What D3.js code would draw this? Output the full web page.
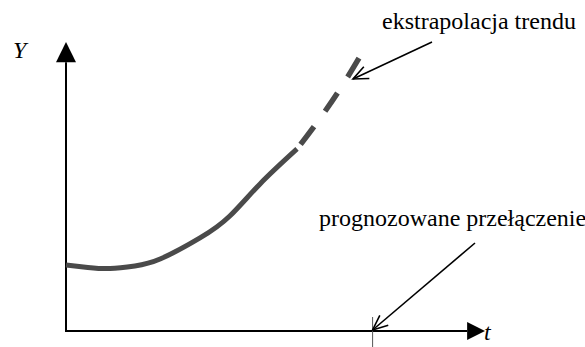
<!DOCTYPE html>
<html>
<head>
<meta charset="utf-8">
<script src="https://cdn.jsdelivr.net/npm/d3@7"></script>
<style>
	body{margin:0;background:#fff;}
	svg{display:block;}
	svg text{font-family:"Liberation Serif","DejaVu Serif","Times New Roman",Times,serif;fill:#000;}
</style>
</head>
<body>
<div id="chart"></div>
<script>

// observed trend (solid)
const trendT = [0, 5.2, 10.5, 16.4, 22.4, 31.9, 39.0, 46.2, 55.0];
const trendY = [22.8, 22.0, 21.6, 22.5, 24.9, 32.2, 39.8, 50.9, 63.0];

// extrapolated part (dashed)
const extraT = [55.0, 59.0, 64.8, 70.2];
const extraY = [63.0, 70.6, 82.7, 95.5];

// forecast switch moment on t axis
const switchT = 73;

const labels = {
	y: 'Y',
	x: 't',
	extra: 'ekstrapolacja trendu',
	switch: 'prognozowane przełączenie'
};

const W = 585, H = 347;

const svg = d3.select('#chart')
	.append('svg')
	.attr('width', W)
	.attr('height', H);

const x = d3.scaleLinear().domain([0, 100]).range([66, 486]);
const y = d3.scaleLinear().domain([0, 100]).range([331, 42]);

// arrow marker for annotations
svg.append('defs')
	.append('marker')
	.attr('id', 'open')
	.attr('viewBox', '-16 -8 18 16')
	.attr('refX', 0)
	.attr('refY', 0)
	.attr('markerWidth', 18)
	.attr('markerHeight', 16)
	.attr('markerUnits', 'userSpaceOnUse')
	.attr('orient', 'auto')
	.append('path')
	.attr('d', 'M-15,-6.5L0,0L-15,6.5')
	.attr('fill', 'none')
	.attr('stroke', '#000')
	.attr('stroke-width', 1.6);

// axes
const axes = svg.append('g').attr('class', 'axes');

axes.append('line')
	.attr('x1', x(0)).attr('x2', x(0))
	.attr('y1', y(0) + 1).attr('y2', y(93))
	.attr('stroke', '#000').attr('stroke-width', 2);

axes.append('line')
	.attr('x1', x(0) - 1).attr('x2', x(95.5))
	.attr('y1', y(0)).attr('y2', y(0))
	.attr('stroke', '#000').attr('stroke-width', 2);

// filled arrowheads
axes.append('path')
	.attr('d', `M${x(0)},${y(100)}L${x(0) - 10},${y(93)}L${x(0) + 10},${y(93)}Z`)
	.attr('fill', '#000');

axes.append('path')
	.attr('d', `M${x(100) - 1},${y(0)}L${x(95.5)},${y(0) - 9}L${x(95.5)},${y(0) + 9}Z`)
	.attr('fill', '#000');

axes.append('text')
	.attr('x', 13).attr('y', 58)
	.style('font-size', '24px')
	.style('font-style', 'italic')
	.text(labels.y);

axes.append('text')
	.attr('x', x(100) - 2).attr('y', 340)
	.style('font-size', '24px')
	.style('font-style', 'italic')
	.text(labels.x);

// switch tick
axes.append('line')
	.attr('x1', x(switchT)).attr('x2', x(switchT))
	.attr('y1', y(0) - 14).attr('y2', H)
	.attr('stroke', '#555').attr('stroke-width', 1);

// curve
const line = d3.line()
	.x(function(d){return x(d[0])})
	.y(function(d){return y(d[1])})
	.curve(d3.curveNatural);

const trend = trendT.map(function(t, i){return [t, trendY[i]]});
const extra = extraT.map(function(t, i){return [t, extraY[i]]});

svg.append('path')
	.datum(trend)
	.attr('d', line)
	.attr('fill', 'none')
	.attr('stroke', '#4a4a4a')
	.attr('stroke-width', 5);

svg.append('path')
	.datum(extra)
	.attr('d', line)
	.attr('fill', 'none')
	.attr('stroke', '#4a4a4a')
	.attr('stroke-width', 5.5)
	.attr('stroke-dasharray', '22,19')
	.attr('stroke-dashoffset', 35);

// annotations
svg.append('line')
	.attr('x1', 432).attr('y1', 42)
	.attr('x2', 353).attr('y2', 79)
	.attr('stroke', '#000').attr('stroke-width', 1.6)
	.attr('marker-end', 'url(#open)');

svg.append('text')
	.attr('x', 382).attr('y', 29)
	.style('font-size', '24px')
	.text(labels.extra);

svg.append('line')
	.attr('x1', 475).attr('y1', 243)
	.attr('x2', x(switchT)).attr('y2', y(0) - 1)
	.attr('stroke', '#000').attr('stroke-width', 1.6)
	.attr('marker-end', 'url(#open)');

svg.append('text')
	.attr('x', 319).attr('y', 226)
	.style('font-size', '24px')
	.text(labels.switch);

</script>
</body>
</html>
